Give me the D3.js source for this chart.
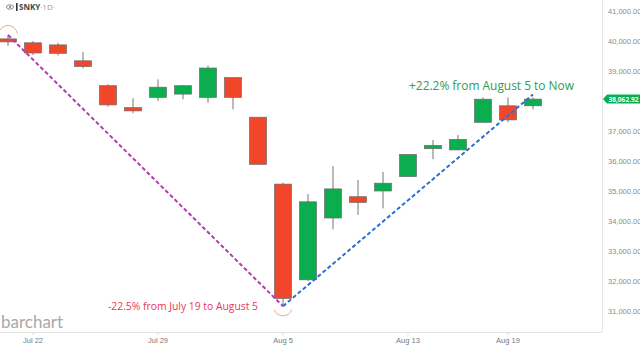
<!DOCTYPE html>
<html>
<head>
<meta charset="utf-8">
<script src="https://cdn.jsdelivr.net/npm/d3@7"></script>
<style>
  html, body { margin: 0; padding: 0; background: #fff; }
  svg { display: block; font-family: "Open Sans", "Noto Sans", sans-serif; }
</style>
</head>
<body>
<script>
// daily candles, SNKY 1D
const dates = ['2024-07-19', '2024-07-22', '2024-07-23', '2024-07-24', '2024-07-25', '2024-07-26',
    '2024-07-29', '2024-07-30', '2024-07-31', '2024-08-01', '2024-08-02',
    '2024-08-05', '2024-08-06', '2024-08-07', '2024-08-08', '2024-08-09',
    '2024-08-13', '2024-08-14', '2024-08-15', '2024-08-16',
    '2024-08-19', '2024-08-20'];
const open  = [40070, 39940, 39870, 39340, 38510, 37780, 38120, 38230, 38120, 38780, 37460,
    35230, 32040, 34100, 34810, 35000, 35480, 36410, 36370, 37290, 37840, 37840];
const high  = [40200, 40000, 39940, 39640, 38560, 38090, 38720, 38530, 39180, 38790, 37470,
    35280, 34900, 35830, 35370, 35640, 36230, 36700, 36870, 38120, 38120, 38120];
const low   = [39840, 39530, 39520, 39090, 37810, 37590, 38000, 38060, 37940, 37720, 35880,
    31160, 32000, 33720, 34200, 34420, 35470, 36060, 36360, 37280, 37290, 37720];
const close = [39970, 39600, 39590, 39150, 37870, 37670, 38460, 38510, 39100, 38120, 35890,
    31420, 34640, 35070, 34620, 35260, 36220, 36520, 36720, 38060, 37370, 38062.92];

const xTickDates = ['2024-07-22', '2024-07-29', '2024-08-05', '2024-08-13', '2024-08-19'];
const xTickLabels = ['Jul 22', 'Jul 29', 'Aug 5', 'Aug 13', 'Aug 19'];
// 38,000 sits under the last price tag, so it is not labelled
const yTicks = [31000, 32000, 33000, 34000, 35000, 36000, 37000, 39000, 40000, 41000];

const lastPrice = 38062.92;
const dropText = '-22.5% from July 19 to August 5';
const riseText = '+22.2% from August 5 to Now';
// swing points: July 19 high -> August 5 low -> latest high
const swingDates = ['2024-07-19', '2024-08-05', '2024-08-20'];
const swingValues = [40200, 31160, 38120];

const width = 640;
const height = 345;
const plotRight = 602;
const plotBottom = 332;

const candles = dates.map((d, i) => ({
    date: d, open: open[i], high: high[i], low: low[i], close: close[i]
}));

const x = d3.scaleBand()
    .domain(dates)
    .range([-4.5, -4.5 + 25 * dates.length])
    .paddingInner(0.32)
    .paddingOuter(0.16);
const cx = d => x(d) + x.bandwidth() / 2;

const y = d3.scaleLinear()
    .domain([31000, 41000])
    .range([311, 11]);

const svg = d3.select('body').append('svg')
    .attr('width', width)
    .attr('height', height);

// frame
svg.append('line')
    .attr('x1', plotRight + 0.5).attr('x2', plotRight + 0.5)
    .attr('y1', 0).attr('y2', plotBottom)
    .attr('stroke', '#e3e3e3');
svg.append('line')
    .attr('x1', 0).attr('x2', plotRight)
    .attr('y1', plotBottom + 0.5).attr('y2', plotBottom + 0.5)
    .attr('stroke', '#e3e3e3');

// y axis on the right
const yAxis = svg.append('g')
    .attr('transform', `translate(${plotRight},0)`)
    .call(d3.axisRight(y).tickValues(yTicks).tickSize(0).tickPadding(6)
        .tickFormat(d3.format(',.2f')));
yAxis.select('.domain').remove();
yAxis.selectAll('text')
    .attr('fill', '#8a8a8a')
    .style('font-size', '7.5px');

// x axis
const xAxis = svg.append('g')
    .attr('transform', `translate(0,${plotBottom})`)
    .call(d3.axisBottom(x).tickValues(xTickDates).tickSize(3).tickPadding(3)
        .tickFormat(d => xTickLabels[xTickDates.indexOf(d)]));
xAxis.select('.domain').remove();
xAxis.selectAll('line').attr('stroke', '#ddd');
xAxis.selectAll('text')
    .attr('fill', '#777')
    .style('font-size', '7.5px');

// watermark
svg.append('text')
    .attr('x', 1)
    .attr('y', 328)
    .attr('fill', '#a9a9a9')
    .style('font-size', '17px')
    .style('font-family', 'Lato, "Open Sans", sans-serif')
    .text('barchart');

// symbol header
const header = svg.append('g').attr('transform', 'translate(6,10)');
header.append('ellipse')
    .attr('cx', 4).attr('cy', -3).attr('rx', 3.5).attr('ry', 2.2)
    .attr('fill', 'none').attr('stroke', '#777').attr('stroke-width', 0.9);
header.append('circle')
    .attr('cx', 4).attr('cy', -3).attr('r', 1.1).attr('fill', '#777');
header.append('rect')
    .attr('x', 10).attr('y', -7).attr('width', 1.6).attr('height', 8).attr('fill', '#333');
header.append('text')
    .attr('x', 13).attr('y', 0)
    .style('font-size', '8px')
    .call(t => {
        t.append('tspan').attr('font-weight', 'bold').attr('fill', '#444').text('SNKY');
        t.append('tspan').attr('fill', '#999').text('·1D·');
    });

// candles
const gCandle = svg.append('g')
    .selectAll('g')
    .data(candles)
    .join('g');

gCandle.append('line')
    .attr('x1', d => cx(d.date)).attr('x2', d => cx(d.date))
    .attr('y1', d => y(d.high)).attr('y2', d => y(d.low))
    .attr('stroke', '#777')
    .attr('stroke-width', 1);

gCandle.append('rect')
    .attr('x', d => x(d.date))
    .attr('width', x.bandwidth())
    .attr('y', d => y(Math.max(d.open, d.close)))
    .attr('height', d => Math.max(1, Math.abs(y(d.open) - y(d.close))))
    .attr('fill', d => d.close >= d.open ? '#0bad4f' : '#f2462b')
    .attr('stroke', '#6b6b6b')
    .attr('stroke-width', 0.7);

// swing lines
const pts = swingDates.map((d, i) => [cx(d), y(swingValues[i])]);
svg.append('line')
    .attr('x1', pts[0][0]).attr('y1', pts[0][1])
    .attr('x2', pts[1][0]).attr('y2', pts[1][1])
    .attr('stroke', '#b53ab2')
    .attr('stroke-width', 2)
    .attr('stroke-dasharray', '4,2.5');
svg.append('line')
    .attr('x1', pts[1][0]).attr('y1', pts[1][1])
    .attr('x2', pts[2][0]).attr('y2', pts[2][1] - 3)
    .attr('stroke', '#2b6fd0')
    .attr('stroke-width', 2)
    .attr('stroke-dasharray', '4,2.5');

// half circles marking the swing points
const arcPath = (px, py, r, a0, a1) => {
    const p = d3.path();
    p.arc(px, py, r, a0, a1);
    return p.toString();
};
svg.append('path')
    .attr('d', arcPath(pts[0][0], pts[0][1], 9.5, Math.PI * 1.05, Math.PI * 1.95))
    .attr('fill', 'none').attr('stroke', '#f4a58f').attr('stroke-width', 1);
svg.append('path')
    .attr('d', arcPath(pts[1][0], pts[1][1], 9.5, Math.PI * 0.12, Math.PI * 0.88))
    .attr('fill', 'none').attr('stroke', '#f4a58f').attr('stroke-width', 1);

// annotations
svg.append('text')
    .attr('x', 108)
    .attr('y', 309.5)
    .attr('fill', '#e8365a')
    .style('font-size', '11.2px')
    .attr('textLength', 150)
    .attr('lengthAdjust', 'spacingAndGlyphs')
    .text(dropText);
svg.append('text')
    .attr('x', 409)
    .attr('y', 89.5)
    .attr('fill', '#2d9e4f')
    .style('font-size', '11.8px')
    .attr('textLength', 165)
    .attr('lengthAdjust', 'spacingAndGlyphs')
    .text(riseText);

// last price tag
const py = Math.round(y(lastPrice));
const tag = svg.append('g').attr('transform', `translate(${plotRight + 1},${py})`);
tag.append('path')
    .attr('d', 'M0,0 L4,-4.5 L37,-4.5 L37,4.5 L4,4.5 Z')
    .attr('fill', '#0bad4f');
tag.append('text')
    .attr('x', 20.5)
    .attr('y', 2.5)
    .attr('text-anchor', 'middle')
    .attr('fill', '#fff')
    .attr('font-weight', 'bold')
    .style('font-size', '6.6px')
    .text(d3.format(',.2f')(lastPrice));
</script>
</body>
</html>
